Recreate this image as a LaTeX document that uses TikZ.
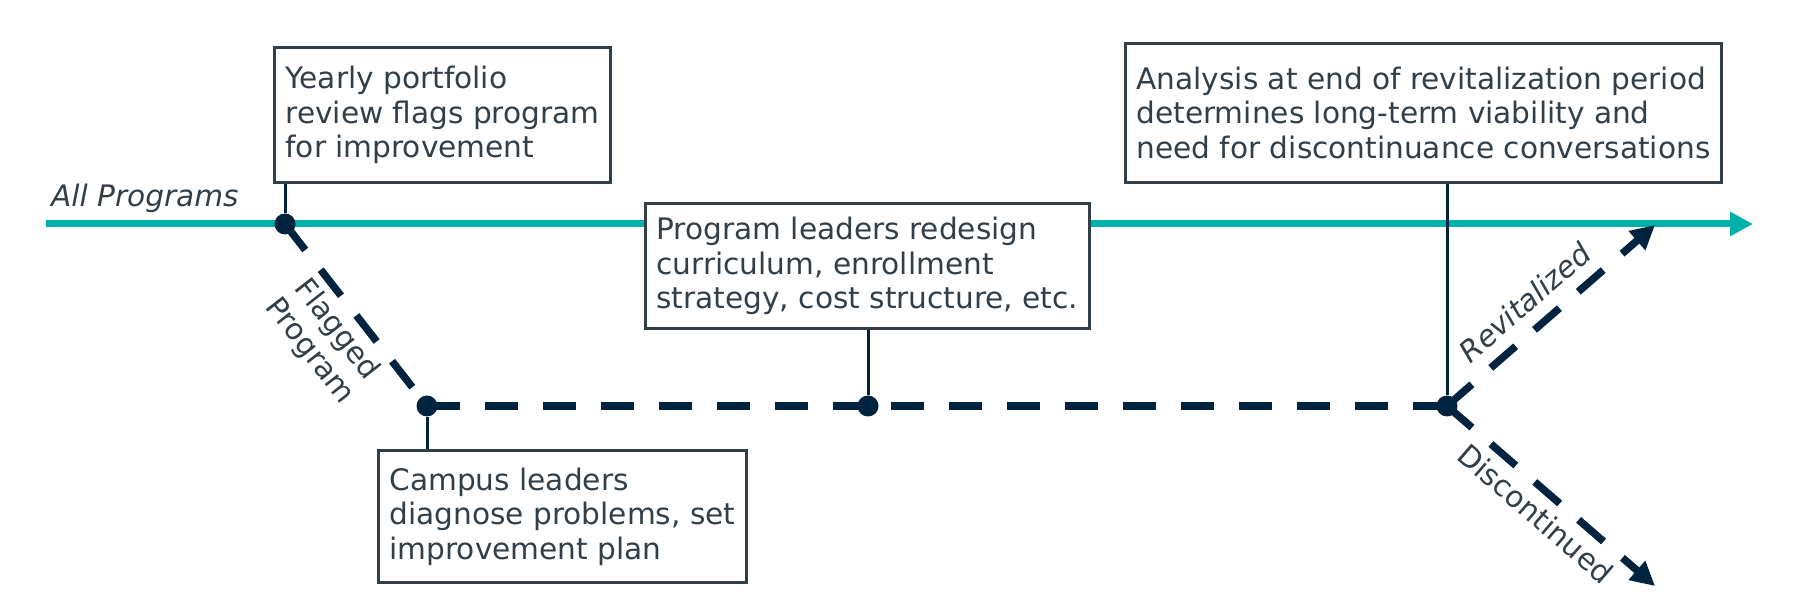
\documentclass[tikz,border=0pt]{standalone}
\usepackage{fontspec}
\setmainfont{DejaVu Sans}
\usepackage{xcolor}
\usetikzlibrary{arrows.meta}
\definecolor{progteal}{HTML}{00B0AA}
\definecolor{flagnavy}{HTML}{002440}
\definecolor{boxgray}{HTML}{333F48}

\begin{document}
\begin{tikzpicture}[x=0.5pt, y=0.5pt, yscale=-1,
    stepbox/.style={draw=boxgray, line width=1.5pt, fill=white, text=boxgray,
      align=left, inner xsep=5.5pt, anchor=north west,
      font=\fontsize{14.8}{17.2}\selectfont},
    milestone/.style={circle, fill=flagnavy, inner sep=0pt, minimum size=10.5pt},
    flagline/.style={draw=flagnavy, line width=3.75pt, dash pattern=on 16.5pt off 12.5pt},
    tick/.style={draw=flagnavy, line width=1.5pt},
    lbl/.style={text=boxgray, font=\fontsize{14.8}{17.2}\selectfont}]
  \useasboundingbox (0,0) rectangle (1798,613);

  % main timeline
  \coordinate (allstart) at (46,224);
  \coordinate (allend) at (1753,224);
  \draw[progteal, line width=3.5pt, -{Triangle[length=11.5pt,width=11.5pt]}] (allstart) -- (allend);
  \node[lbl, font=\fontsize{14.8}{17.2}\selectfont\itshape, anchor=base west] (allprog) at (44,207) {All Programs};

  % milestones
  \node[milestone] (flag) at (285,224) {};
  \node[milestone] (diag) at (427,406) {};
  \node[milestone] (redesign) at (868,406) {};
  \node[milestone] (review) at (1447,406) {};
  \coordinate (revit) at (1655,225);
  \coordinate (discont) at (1655,586);

  % boxes
  \node[stepbox, minimum height=67.5pt] (yearly) at (273,46)
    {Yearly portfolio\\review flags program\\for improvement};
  \node[stepbox, minimum height=65.75pt] (campus) at (377,449.5)
    {Campus leaders\\diagnose problems, set\\improvement plan};
  \node[stepbox, minimum height=62.5pt] (program) at (644,202)
    {Program leaders redesign\\curriculum, enrollment\\strategy, cost structure, etc.};
  \node[stepbox, minimum height=69.3pt] (analysis) at (1124,42)
    {Analysis at end of revitalization period\\determines long-term viability and\\need for discontinuance conversations};

  % box connectors
  \draw[tick] (yearly.south -| flag) -- (flag);
  \draw[tick] (campus.north -| diag) -- (diag);
  \draw[tick] (program.south -| redesign) -- (redesign);
  \draw[tick] (analysis.south -| review) -- (review);

  % flagged path
  \draw[flagline] (flag.center) --
    node[lbl, pos=0.5, rotate=-52, anchor=north, align=center] (flaglbl) {Flagged\\Program} (diag.center);
  \draw[flagline] (diag.center) -- (review.center);
  \draw[flagline, -{Triangle[length=12pt,width=12pt]}] (review.center) --
    node[lbl, font=\fontsize{14.8}{17.2}\selectfont\itshape, pos=0.46, rotate=41.2, anchor=south, inner sep=6pt] (revlbl) {Revitalized} (revit);
  \draw[flagline, -{Triangle[length=12pt,width=12pt]}] (review.center) --
    node[lbl, pos=0.5, rotate=-40.8, anchor=north, inner sep=4pt] (dislbl) {Discontinued} (discont);
\end{tikzpicture}
\end{document}
